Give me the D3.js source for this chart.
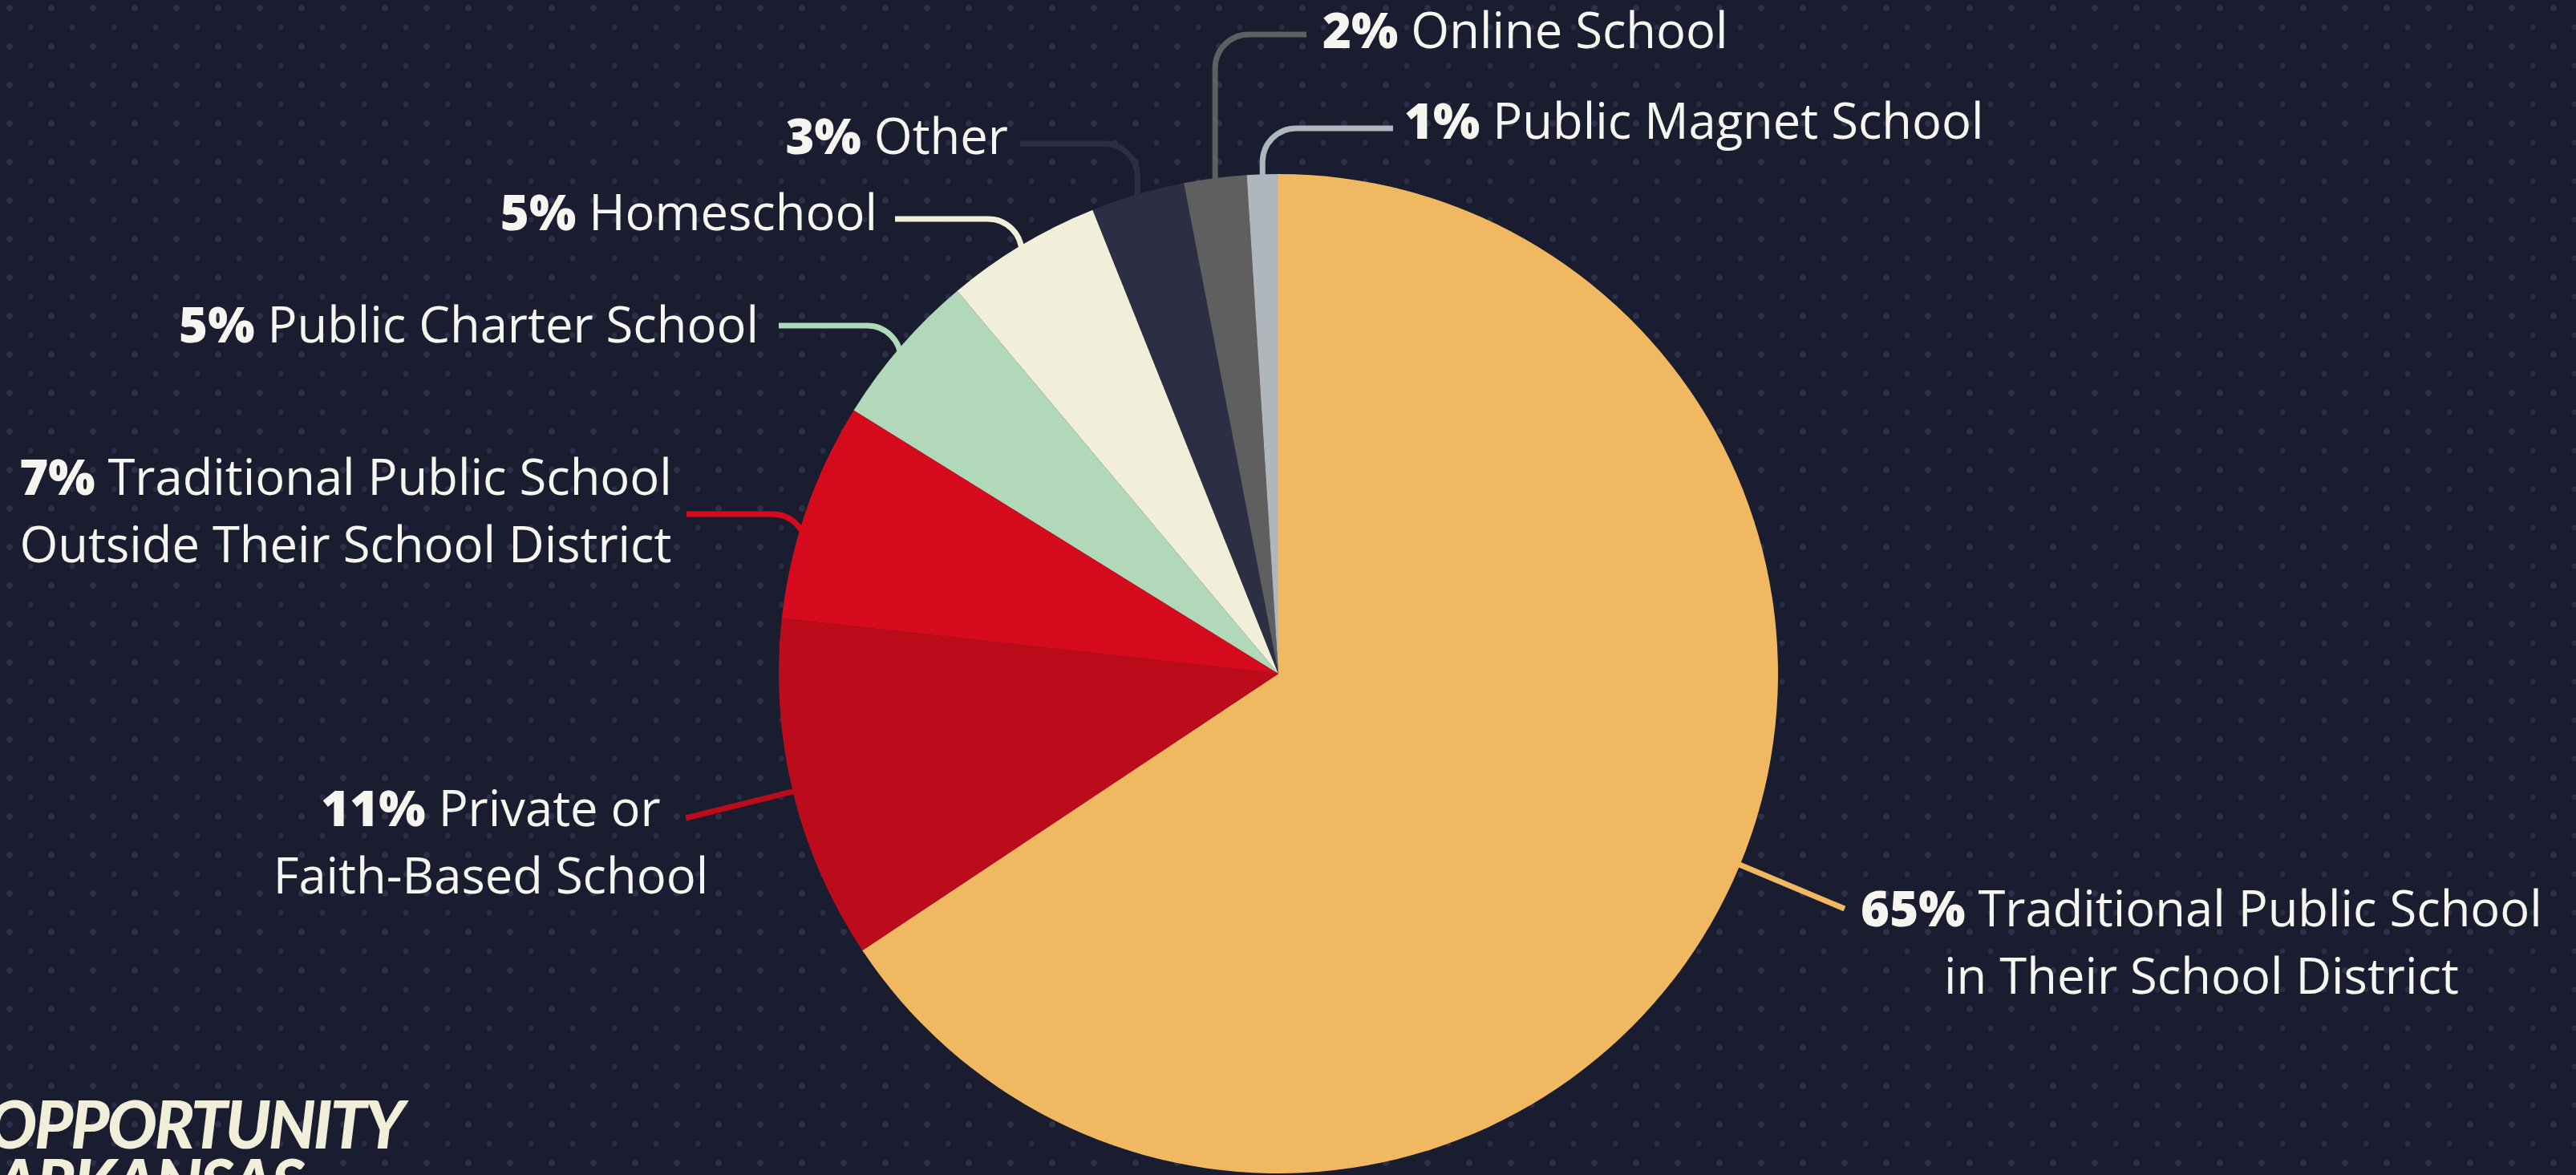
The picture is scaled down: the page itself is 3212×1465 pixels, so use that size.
<!DOCTYPE html>
<html lang="en">
<head>
  <meta charset="UTF-8">
  <script src="https://cdnjs.cloudflare.com/ajax/libs/d3/7.8.5/d3.min.js"></script>
  <title>Where students go to school</title>
  <style>
    html, body { margin: 0; padding: 0; background: #1a1c30; overflow: hidden; }
    svg { display: block; }
  </style>
</head>
<body>
  <div id="chart"></div>
  <script>
    const categories = [
      'Traditional Public School in Their School District',
      'Private or Faith-Based School',
      'Traditional Public School Outside Their School District',
      'Public Charter School',
      'Homeschool',
      'Other',
      'Online School',
      'Public Magnet School'
    ];
    const shares = [65, 11, 7, 5, 5, 3, 2, 1];
    const labelLines = [
      ['Traditional Public School', 'in Their School District'],
      ['Private or', 'Faith-Based School'],
      ['Traditional Public School', 'Outside Their School District'],
      ['Public Charter School'],
      ['Homeschool'],
      ['Other'],
      ['Online School'],
      ['Public Magnet School']
    ];
    const sliceColors = ['#f0b961', '#bc0c1c', '#d50a1c', '#b2d8ba', '#f1efd9', '#2c2f43', '#5f5f5f', '#afb6bc'];

    const width = 3212, height = 1465;
    const cx = 1594, cy = 840, radius = 623;
    const textColor = '#f6f5ef';

    // where each label sits and how its leader line is drawn
    const layout = [
      { x: 2745, y: 1155, anchor: 'middle', leader: 'straight', end: [2300, 1133], shift: -5.7 },
      { x: 612, y: 1030, anchor: 'middle', leader: 'straight', end: [855, 1020], shift: 0 },
      { x: 431, y: 617, anchor: 'middle', leader: 'elbow', lineY: 641, endX: 856 },
      { x: 946, y: 427, anchor: 'end', leader: 'elbow', lineY: 406, endX: 971 },
      { x: 1094, y: 287, anchor: 'end', leader: 'elbow', lineY: 273, endX: 1116 },
      { x: 1257, y: 192, anchor: 'end', leader: 'elbow', lineY: 179, endX: 1272 },
      { x: 1649, y: 60, anchor: 'start', leader: 'elbow', lineY: 43, endX: 1629 },
      { x: 1751, y: 173, anchor: 'start', leader: 'elbow', lineY: 160, endX: 1737 }
    ];

    const data = categories.map((c, i) => ({ name: c, value: shares[i], lines: labelLines[i], color: sliceColors[i], pos: layout[i] }));

    const svg = d3.select('#chart')
      .append('svg')
      .attr('width', width)
      .attr('height', height);

    // dotted background texture
    const defs = svg.append('defs');
    const pat = defs.append('pattern')
      .attr('id', 'dots')
      .attr('patternUnits', 'userSpaceOnUse')
      .attr('width', 52)
      .attr('height', 48);
    pat.append('circle').attr('cx', 12).attr('cy', 10).attr('r', 3.8).attr('fill', '#2d3147');
    pat.append('circle').attr('cx', 38).attr('cy', 34).attr('r', 3.2).attr('fill', '#2a2e44');

    svg.append('rect').attr('width', width).attr('height', height).attr('fill', '#1a1c30');
    svg.append('rect').attr('width', width).attr('height', height).attr('fill', 'url(#dots)');

    const pie = d3.pie().sort(null).value(d => d.value);
    const arcs = pie(data);
    const arc = d3.arc().innerRadius(0).outerRadius(radius);

    const g = svg.append('g').attr('transform', `translate(${cx},${cy})`);

    // leader lines go under the pie so they tuck in at the edge
    function leaderPath(a) {
      const l = a.data.pos;
      const mid = (a.startAngle + a.endAngle) / 2;
      if (l.leader === 'straight') {
        const ang = mid + l.shift * Math.PI / 180;
        const px = (radius - 4) * Math.sin(ang), py = -(radius - 4) * Math.cos(ang);
        return `M${px},${py}L${l.end[0] - cx},${l.end[1] - cy}`;
      }
      const r = 42;
      const ax = radius * Math.sin(mid);
      const ly = l.lineY - cy;
      const yIn = Math.max(-Math.sqrt(radius * radius - ax * ax) + 30, ly + r);
      const ex = l.endX - cx;
      if (ex < ax) {
        return `M${ex},${ly}H${ax - r}A${r},${r} 0 0 1 ${ax},${ly + r}V${yIn}`;
      }
      return `M${ex},${ly}H${ax + r}A${r},${r} 0 0 0 ${ax},${ly + r}V${yIn}`;
    }

    g.selectAll('path.leader')
      .data(arcs)
      .enter()
      .append('path')
      .attr('class', 'leader')
      .attr('d', leaderPath)
      .attr('fill', 'none')
      .attr('stroke', d => d.data.color)
      .attr('stroke-width', 7);

    g.selectAll('path.slice')
      .data(arcs)
      .enter()
      .append('path')
      .attr('class', 'slice')
      .attr('d', arc)
      .attr('fill', d => d.data.color);

    // labels
    const labels = svg.selectAll('text.label')
      .data(data)
      .enter()
      .append('text')
      .attr('class', 'label')
      .attr('text-anchor', d => d.pos.anchor)
      .style('font-family', '"Open Sans", sans-serif')
      .style('font-size', '61.5px')
      .attr('fill', textColor);

    labels.each(function (d) {
      const t = d3.select(this);
      d.lines.forEach((line, i) => {
        if (i === 0) {
          t.append('tspan')
            .attr('x', d.pos.x)
            .attr('y', d.pos.y)
            .style('font-weight', 800)
            .text(d.value + '% ');
          t.append('tspan').text(line);
        } else {
          t.append('tspan')
            .attr('x', d.pos.x)
            .attr('y', d.pos.y + 84 * i)
            .text(line);
        }
      });
    });

    // logo in the corner
    const logo = svg.append('g')
      .style('font-family', 'Lato, sans-serif')
      .style('font-weight', 900)
      .style('font-style', 'italic')
      .style('letter-spacing', '-3px')
      .attr('fill', '#f1efd9');
    logo.append('text').attr('x', -16).attr('y', 1432).style('font-size', '82px').text('OPPORTUNITY');
    logo.append('text').attr('x', -6).attr('y', 1505).style('font-size', '82px').text('ARKANSAS');
  </script>
</body>
</html>
